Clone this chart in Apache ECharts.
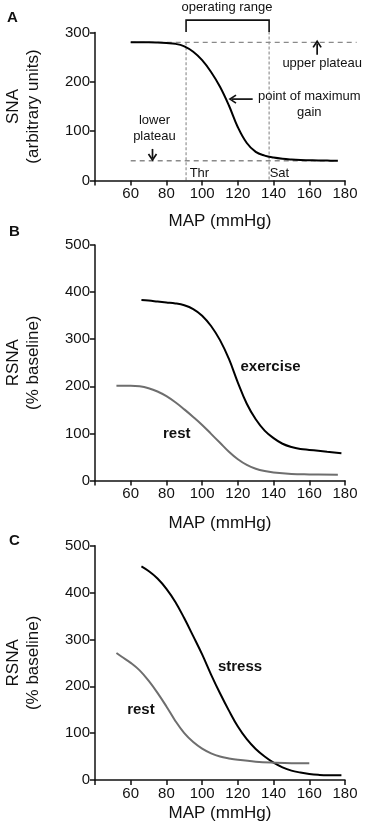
<!DOCTYPE html>
<html>
<head>
<meta charset="utf-8">
<script src="https://cdn.jsdelivr.net/npm/echarts@6/dist/echarts.min.js"></script>
<style>
html, body { margin: 0; padding: 0; background: #fff; }
#chart { width: 369px; height: 831px; }
</style>
</head>
<body>
<div id="chart"></div>
<script>
// Panel A - generic sigmoid baroreflex curve
const mapA = [60, 65, 70, 75, 80, 85, 90, 95, 100, 105, 110, 115, 120, 125, 130, 135, 140, 145, 150, 155, 160, 165, 170, 176];
const snaA = [280, 280, 280, 279.5, 278.5, 277, 272, 261, 244, 220, 190, 152, 108, 76, 58, 50.5, 46.5, 44, 42.5, 41.5, 41, 40.5, 40.3, 40];

// Panel B - exercise vs rest
const mapExercise = [66, 70, 75, 80, 85, 90, 95, 100, 105, 110, 115, 120, 125, 130, 135, 140, 145, 150, 155, 160, 165, 170, 178];
const rsnaExercise = [383, 382, 380, 378, 376, 372, 364, 350, 328, 298, 258, 208, 163, 130, 106, 90, 78, 71, 67, 65, 63, 61, 58];
const mapRestB = [52, 55, 60, 65, 70, 75, 80, 85, 90, 95, 100, 105, 110, 115, 120, 125, 130, 135, 140, 150, 160, 176];
const rsnaRestB = [201, 201, 201, 200, 196, 189, 179, 166, 151, 135, 118, 99, 80, 61, 45, 33, 25, 20, 17, 14, 13, 12];

// Panel C - stress vs rest
const mapStress = [66, 70, 75, 80, 85, 90, 95, 100, 105, 110, 115, 120, 125, 130, 135, 140, 145, 150, 155, 160, 165, 170, 178];
const rsnaStress = [456, 446, 430, 408, 380, 345, 307, 268, 225, 185, 148, 114, 87, 66, 50, 37, 27, 20, 16, 13, 11, 10, 10];
const mapRestC = [52, 55, 60, 65, 70, 75, 80, 85, 90, 95, 100, 105, 110, 115, 120, 130, 140, 150, 160];
const rsnaRestC = [271, 263, 250, 234, 212, 186, 157, 126, 100, 81, 67, 57, 50, 46, 43, 39, 37, 36, 36];

// reference markers of panel A (MAP, SNA)
const upperPlateau = 280;
const lowerPlateau = 40;
const thrMap = 91;
const satMap = 137.5;

const xTickLabels = [60, 80, 100, 120, 140, 160, 180];

const toPairs = (xs, ys) => xs.map((x, i) => [x, ys[i]]);

const chart = echarts.init(document.getElementById("chart"));

const font = "Liberation Sans, Arial, sans-serif";
const ink = "#111";

function xAxisFor(gridIndex, nameGap) {
    return {
        type: "value",
        gridIndex,
        min: 40,
        max: 180,
        interval: 20,
        name: "MAP (mmHg)",
        nameLocation: "middle",
        nameGap,
        nameTextStyle: { fontFamily: font, fontSize: 17, color: ink },
        axisLine: { show: true, lineStyle: { color: ink, width: 1.5 } },
        axisTick: { show: true, length: 5, lineStyle: { color: ink, width: 1.5 } },
        axisLabel: {
            fontFamily: font,
            fontSize: 15,
            color: ink,
            margin: 6,
            formatter: (v) => (xTickLabels.indexOf(v) >= 0 ? String(v) : "")
        },
        splitLine: { show: false }
    };
}

function yAxisFor(gridIndex, max, name) {
    return {
        type: "value",
        gridIndex,
        min: 0,
        max,
        interval: 100,
        name,
        nameLocation: "middle",
        nameGap: 52,
        nameRotate: 90,
        nameTextStyle: { fontFamily: font, fontSize: 17, color: ink, lineHeight: 20 },
        axisLine: { show: true, lineStyle: { color: ink, width: 1.5 } },
        axisTick: { show: true, length: 5, lineStyle: { color: ink, width: 1.5 } },
        axisLabel: { fontFamily: font, fontSize: 15, color: ink, margin: 5 },
        splitLine: { show: false }
    };
}

function curveLabel(name, x, y) {
    return {
        name,
        coord: [x, y],
        symbol: "circle",
        symbolSize: 1,
        itemStyle: { color: "rgba(0,0,0,0)" },
        label: {
            show: true, position: "inside", formatter: name,
            fontFamily: font, fontSize: 15, fontWeight: "bold", color: ink
        }
    };
}

function curveSeries(xi, xs, ys, color, label) {
    return {
        type: "line",
        xAxisIndex: xi,
        yAxisIndex: xi,
        data: toPairs(xs, ys),
        smooth: 0.4,
        showSymbol: false,
        lineStyle: { color, width: 2 },
        markPoint: label ? { silent: true, animation: false, data: [label] } : undefined
    };
}

chart.setOption({
    animation: false,
    grid: [
        { left: 95, width: 250, top: 32.5, height: 148, outerBoundsMode: "none" },
        { left: 95, width: 250, top: 245, height: 235.5, outerBoundsMode: "none" },
        { left: 95, width: 250, top: 545.7, height: 234.3, outerBoundsMode: "none" }
    ],
    title: [
        { text: "A", left: 2, top: 5, textStyle: { fontFamily: font, fontSize: 15, fontWeight: "bold", color: ink } },
        { text: "B", left: 4, top: 219, textStyle: { fontFamily: font, fontSize: 15, fontWeight: "bold", color: ink } },
        { text: "C", left: 4, top: 528, textStyle: { fontFamily: font, fontSize: 15, fontWeight: "bold", color: ink } }
    ],
    xAxis: [xAxisFor(0, 32), xAxisFor(1, 34), xAxisFor(2, 25)],
    yAxis: [
        yAxisFor(0, 300, "SNA\n(arbitrary units)"),
        yAxisFor(1, 500, "RSNA\n(% baseline)"),
        yAxisFor(2, 500, "RSNA\n(% baseline)")
    ],
    series: [
        curveSeries(0, mapA, snaA, "#000"),
        curveSeries(1, mapExercise, rsnaExercise, "#000", curveLabel("exercise", 138.3, 241)),
        curveSeries(1, mapRestB, rsnaRestB, "#6e6e6e", curveLabel("rest", 85.8, 100)),
        curveSeries(2, mapStress, rsnaStress, "#000", curveLabel("stress", 121.2, 241)),
        curveSeries(2, mapRestC, rsnaRestC, "#6e6e6e", curveLabel("rest", 65.7, 149))
    ]
});

// panel A annotations: placed through the grid's own scales (some lie outside the axis range)
const px = (x, y) => chart.convertToPixel({ gridIndex: 0 }, [x, y]);

function line(a, b, dash, color, width) {
    const p = px(a[0], a[1]);
    const q = px(b[0], b[1]);
    return {
        type: "line",
        silent: true,
        shape: { x1: p[0], y1: p[1], x2: q[0], y2: q[1] },
        style: { stroke: color || "#8a8a8a", lineWidth: width || 1.3, lineDash: dash || null }
    };
}

function arrow(a, b) {
    const p = px(a[0], a[1]);
    const q = px(b[0], b[1]);
    const dx = q[0] - p[0], dy = q[1] - p[1];
    const len = Math.hypot(dx, dy);
    const ux = dx / len, uy = dy / len;
    const h = 6, w = 4;
    return [
        {
            type: "line", silent: true,
            shape: { x1: p[0], y1: p[1], x2: q[0] - ux * 2, y2: q[1] - uy * 2 },
            style: { stroke: ink, lineWidth: 1.7 }
        },
        {
            type: "polyline", silent: true,
            shape: { points: [
                [q[0] - ux * h - uy * w, q[1] - uy * h + ux * w],
                [q[0], q[1]],
                [q[0] - ux * h + uy * w, q[1] - uy * h - ux * w]
            ] },
            style: { stroke: ink, lineWidth: 1.7, fill: null }
        }
    ];
}

function text(str, x, y, align) {
    const p = px(x, y);
    return {
        type: "text",
        silent: true,
        x: p[0],
        y: p[1],
        style: {
            text: str,
            font: "13px " + font,
            fill: ink,
            textAlign: align || "center",
            textVerticalAlign: "middle",
            lineHeight: 16
        }
    };
}

const bracketL = px(thrMap, 301), bracketTL = px(thrMap, 325);
const bracketTR = px(satMap, 325), bracketR = px(satMap, 301);

chart.setOption({
    graphic: [
        line([60, upperPlateau], [186.5, upperPlateau], [5, 4]),
        line([60, lowerPlateau], [176, lowerPlateau], [5, 4]),
        line([thrMap, upperPlateau], [thrMap, 0], [3, 2], "#8a8a8a", 1.1),
        line([satMap, 302], [satMap, 0], [3, 2], "#8a8a8a", 1.1),
        {
            type: "polyline", silent: true,
            shape: { points: [bracketL, bracketTL, bracketTR, bracketR] },
            style: { stroke: ink, lineWidth: 1.6, fill: null }
        },
        ...arrow([164.4, 255], [164.4, 282]),
        ...arrow([128.3, 165], [115.6, 165]),
        ...arrow([72.2, 64], [72.2, 41.5]),
        text("operating range", 113.9, 350),
        text("upper plateau", 167.2, 238),
        text("point of maximum\ngain", 160, 154),
        text("lower\nplateau", 73.3, 105),
        text("Thr", 93, 15, "left"),
        text("Sat", 137.8, 15, "left")
    ]
});
</script>
</body>
</html>
